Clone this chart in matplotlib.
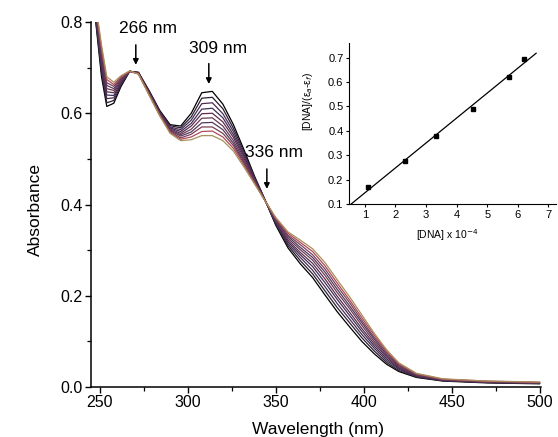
import numpy as np
import matplotlib.pyplot as plt

plt.rcParams['font.family'] = ['Liberation Sans', 'DejaVu Sans']

wavelength = [245, 248, 251, 254, 258, 262, 267, 272, 278, 284, 290, 296, 302, 308, 314,
              320, 326, 332, 338, 344, 350, 357, 364, 371, 378, 385, 392, 399, 406, 413,
              420, 430, 445, 470, 500]

# absorbance spectra, free compound first, highest [DNA] last
spectra = [
    [.900, .790, .680, .615, .622, .658, .692, .690, .650, .607, .575, .572, .600, .645, .648,
     .620, .575, .520, .462, .410, .355, .305, .270, .240, .202, .165, .132, .100, .073, .050,
     .034, .021, .013, .009, .007],
    [.903, .795, .689, .623, .628, .661, .692, .689, .649, .605, .573, .568, .592, .633, .635,
     .610, .567, .515, .460, .410, .357, .310, .277, .248, .211, .174, .141, .108, .079, .054,
     .036, .022, .014, .010, .008],
    [.905, .800, .698, .632, .634, .664, .692, .689, .647, .604, .570, .564, .585, .621, .623,
     .599, .560, .510, .458, .409, .359, .314, .284, .256, .220, .183, .149, .115, .085, .058,
     .039, .023, .014, .010, .008],
    [.908, .805, .707, .640, .639, .667, .692, .688, .646, .602, .568, .560, .578, .609, .611,
     .590, .553, .506, .456, .409, .361, .318, .290, .264, .229, .192, .157, .122, .090, .062,
     .041, .024, .015, .010, .008],
    [.910, .810, .714, .647, .645, .670, .692, .688, .645, .601, .566, .556, .572, .599, .600,
     .581, .547, .501, .454, .409, .363, .322, .295, .271, .237, .199, .164, .128, .095, .066,
     .043, .025, .015, .011, .009],
    [.912, .814, .722, .654, .650, .672, .692, .688, .644, .600, .564, .553, .565, .589, .590,
     .572, .540, .497, .452, .409, .365, .326, .301, .278, .245, .207, .172, .135, .100, .069,
     .045, .026, .016, .011, .009],
    [.914, .818, .729, .661, .654, .675, .692, .687, .643, .599, .562, .550, .559, .579, .580,
     .564, .534, .493, .450, .409, .367, .330, .306, .284, .252, .214, .178, .141, .105, .072,
     .047, .027, .016, .012, .009],
    [.916, .822, .736, .667, .659, .677, .692, .687, .642, .597, .560, .546, .554, .570, .570,
     .556, .529, .490, .448, .408, .369, .333, .312, .290, .259, .221, .185, .146, .109, .076,
     .049, .028, .017, .012, .010],
    [.918, .826, .743, .674, .663, .680, .692, .686, .641, .596, .558, .543, .548, .560, .561,
     .548, .523, .486, .447, .408, .370, .337, .317, .297, .266, .228, .191, .152, .114, .079,
     .051, .029, .017, .013, .010],
    [.920, .830, .750, .680, .668, .682, .693, .686, .640, .595, .556, .540, .542, .551, .551,
     .540, .517, .482, .445, .408, .372, .340, .322, .303, .273, .235, .198, .158, .118, .082,
     .053, .030, .018, .013, .011],
]
colors = ['#000000', '#2b1f33', '#4a2c4f', '#3d2f5a', '#5c2d4a', '#6a3a55',
          '#523a5e', '#7a4058', '#b04a5a', '#a8905a']

# inset: [DNA]/(ea-ef) vs [DNA]
dna = [1.11, 2.32, 3.31, 4.53, 5.70, 6.19]
ratio = [0.170, 0.275, 0.377, 0.490, 0.620, 0.696]

fig = plt.figure(figsize=(5.58, 4.37), dpi=100)
ax = fig.add_axes([0.163, 0.1144, 0.807, 0.8352])

for s, c in zip(spectra, colors):
    ax.plot(wavelength, s, color=c, lw=0.9)

ax.set_xlim(245, 501)
ax.set_ylim(0, 0.8)
ax.set_xticks([250, 300, 350, 400, 450, 500])
ax.set_xticks([275, 325, 375, 425, 475], minor=True)
ax.set_yticks([0.0, 0.2, 0.4, 0.6, 0.8])
ax.set_yticks([0.1, 0.3, 0.5, 0.7], minor=True)
ax.set_yticklabels(['0.0', '0.2', '0.4', '0.6', '0.8'])
ax.spines['top'].set_visible(False)
ax.spines['right'].set_visible(False)
ax.spines['left'].set_linewidth(1.1)
ax.spines['bottom'].set_linewidth(1.1)
ax.tick_params(labelsize=11.5, length=4, width=1.0, pad=2)
ax.tick_params(which='minor', length=3, width=0.9)
ax.set_xlabel('Wavelength (nm)', fontsize=12.5)
ax.set_ylabel('Absorbance', fontsize=12.5)
ax.xaxis.set_label_coords(0.504, -0.096)
ax.yaxis.label.set_va('center')
ax.yaxis.set_label_coords(-0.124, 0.485)

arrow = dict(arrowstyle='-|>', color='black', lw=1.1, mutation_scale=8)
ax.annotate('', xy=(270.5, 0.700), xytext=(270.5, 0.756), arrowprops=arrow)
ax.text(277.5, 0.785, '266 nm', fontsize=12.5, ha='center', va='center')
ax.annotate('', xy=(312, 0.658), xytext=(312, 0.715), arrowprops=arrow)
ax.text(317, 0.741, '309 nm', fontsize=12.5, ha='center', va='center')
ax.annotate('', xy=(345, 0.428), xytext=(345, 0.484), arrowprops=arrow)
ax.text(349, 0.515, '336 nm', fontsize=12.5, ha='center', va='center')

# inset
ins = fig.add_axes([0.6254, 0.5332, 0.371, 0.3684], facecolor='none')
slope, icpt = np.polyfit(dna, ratio, 1)
xl = np.array([0.5, 6.6])
ins.plot(xl, slope * xl + icpt, color='black', lw=0.9)
ins.plot(dna, ratio, 's', color='black', ms=2.4)
ins.set_xlim(0.48, 7.25)
ins.set_ylim(0.1, 0.76)
ins.set_xticks(range(1, 8))
ins.set_yticks([0.1, 0.2, 0.3, 0.4, 0.5, 0.6, 0.7])
ins.set_yticklabels(['0.1', '0.2', '0.3', '0.4', '0.5', '0.6', '0.7'])
ins.spines['top'].set_visible(False)
ins.spines['right'].set_visible(False)
ins.tick_params(labelsize=8, length=2.5, width=0.8, pad=1.5)
ins.set_xlabel('[DNA] x 10$^{-4}$', fontsize=7.5)
ins.set_ylabel('[DNA]/(ε$_a$-ε$_f$)', fontsize=7.5)
ins.xaxis.set_label_coords(0.473, -0.143)
ins.yaxis.label.set_va('center')
ins.yaxis.set_label_coords(-0.198, 0.64)

fig.savefig('out.png', dpi=100)
